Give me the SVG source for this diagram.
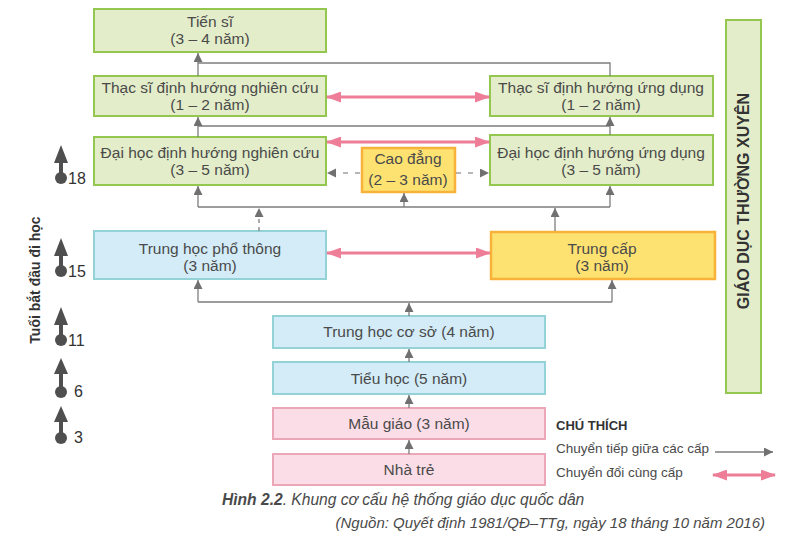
<svg xmlns="http://www.w3.org/2000/svg" width="788" height="537" viewBox="0 0 788 537">
<defs>
<marker id="ga" markerUnits="userSpaceOnUse" markerWidth="9" markerHeight="10" refX="9" refY="4.5" orient="auto"><path d="M0,0 L9,4.5 L0,9 z" fill="#707070"/></marker>
<marker id="pa" markerUnits="userSpaceOnUse" markerWidth="15" markerHeight="11" refX="14" refY="5.5" orient="auto-start-reverse"><path d="M0,0 L15,5.5 L0,11 z" fill="#ee7d97"/></marker>
</defs>
<style>
text{font-family:"Liberation Sans",Arial,sans-serif;fill:#4a4a4a}
.t{font-size:15.5px;text-anchor:middle}
.g{fill:#e3edc9;stroke:#93c74f;stroke-width:2}
.b{fill:#d3ecf8;stroke:#93d2d6;stroke-width:2}
.p{fill:#fbdde7;stroke:#eba6b7;stroke-width:2}
.y{fill:#fde272;stroke:#f8b23a;stroke-width:2.5}
.c{fill:none;stroke:#7d7d7d;stroke-width:1.3}
.d{stroke-dasharray:4 4}
.dl{stroke:#a0a0a0;stroke-dasharray:5 7}
.pk{fill:none;stroke:#ee7d97;stroke-width:3}
.age{fill:#4f4f4f}
.an{font-size:16px;fill:#333}
</style>

<g id="tien-si"><rect class="g" x="94" y="9" width="232" height="43"/><text class="t" x="210" y="27">Tiến sĩ</text><text class="t" x="210" y="44">(3 – 4 năm)</text></g>
<g id="thac-si-nc"><rect class="g" x="94" y="76" width="232" height="40"/><text class="t" x="210" y="93">Thạc sĩ định hướng nghiên cứu</text><text class="t" x="210" y="110">(1 – 2 năm)</text></g>
<g id="thac-si-ud"><rect class="g" x="490" y="76" width="223" height="40"/><text class="t" x="601" y="93">Thạc sĩ định hướng ứng dụng</text><text class="t" x="601" y="110">(1 – 2 năm)</text></g>
<g id="dai-hoc-nc"><rect class="g" x="94" y="137" width="232" height="48"/><text class="t" x="210" y="158">Đại học định hướng nghiên cứu</text><text class="t" x="210" y="175">(3 – 5 năm)</text></g>
<g id="dai-hoc-ud"><rect class="g" x="490" y="135" width="223" height="50"/><text class="t" x="601" y="158">Đại học định hướng ứng dụng</text><text class="t" x="601" y="175">(3 – 5 năm)</text></g>
<g id="cao-dang"><rect class="y" x="362" y="148" width="93" height="44"/><text class="t" x="408" y="164">Cao đẳng</text><text class="t" x="408" y="185">(2 – 3 năm)</text></g>
<g id="thpt"><rect class="b" x="94" y="231" width="232" height="48"/><text class="t" x="210" y="254">Trung học phổ thông</text><text class="t" x="210" y="271">(3 năm)</text></g>
<g id="trung-cap"><rect class="y" x="491" y="232" width="224" height="47"/><text class="t" x="602" y="254">Trung cấp</text><text class="t" x="602" y="271">(3 năm)</text></g>
<g id="thcs"><rect class="b" x="273" y="316" width="272" height="32"/><text class="t" x="409" y="337">Trung học cơ sở (4 năm)</text></g>
<g id="tieu-hoc"><rect class="b" x="273" y="362" width="272" height="32"/><text class="t" x="409" y="384">Tiểu học (5 năm)</text></g>
<g id="mau-giao"><rect class="p" x="273" y="408" width="272" height="31"/><text class="t" x="409" y="429">Mẫu giáo (3 năm)</text></g>
<g id="nha-tre"><rect class="p" x="273" y="454" width="272" height="31"/><text class="t" x="409" y="475">Nhà trẻ</text></g>
<g id="gdtx"><rect class="g" x="726" y="20" width="35" height="373"/><text transform="translate(749,201) rotate(-90)" font-size="16" font-weight="bold" text-anchor="middle" style="fill:#333">GIÁO DỤC THƯỜNG XUYÊN</text></g>

<g id="connectors">
<path class="c" d="M610,76 V63 H198"/>
<path class="c" d="M198,76 V53" marker-end="url(#ga)"/>
<path class="c" d="M198,126 H610"/>
<path class="c" d="M198,137 V117" marker-end="url(#ga)"/>
<path class="c" d="M610,135 V117" marker-end="url(#ga)"/>
<path class="c" d="M198,207 H610"/>
<path class="c" d="M198,207 V186" marker-end="url(#ga)"/>
<path class="c" d="M404,207 V193" marker-end="url(#ga)"/>
<path class="c" d="M610,207 V186" marker-end="url(#ga)"/>
<path class="c d" d="M259,231 V208" marker-end="url(#ga)"/>
<path class="c" d="M555,231 V208" marker-end="url(#ga)"/>
<path class="c dl" d="M360,173 H327" marker-end="url(#ga)"/>
<path class="c dl" d="M456,173 H489" marker-end="url(#ga)"/>
<path class="c" d="M198,302 H612"/>
<path class="c" d="M198,302 V280" marker-end="url(#ga)"/>
<path class="c" d="M612,302 V280" marker-end="url(#ga)"/>
<path class="c" d="M409,316 V303" marker-end="url(#ga)"/>
<path class="c" d="M409,362 V349" marker-end="url(#ga)"/>
<path class="c" d="M409,408 V395" marker-end="url(#ga)"/>
<path class="c" d="M409,454 V440" marker-end="url(#ga)"/>
<path class="pk" d="M327,97 H489" marker-start="url(#pa)" marker-end="url(#pa)"/>
<path class="pk" d="M327,142 H489" marker-start="url(#pa)" marker-end="url(#pa)"/>
<path class="pk" d="M327,253 H490" marker-start="url(#pa)" marker-end="url(#pa)"/>
</g>

<g id="age-axis">
<text transform="translate(40,280) rotate(-90)" font-size="14" font-weight="bold" text-anchor="middle" style="fill:#333">Tuổi bắt đầu đi học</text>
<g id="age-18"><path class="age" d="M61,145 L68,163 L63,163 L63,174 L59,174 L59,163 L54,163 z"/><circle class="age" cx="61" cy="178" r="6"/><text class="an" x="68" y="184">18</text></g>
<g id="age-15"><path class="age" d="M61,238 L68,256 L63,256 L63,267 L59,267 L59,256 L54,256 z"/><circle class="age" cx="61" cy="271" r="6"/><text class="an" x="68" y="277">15</text></g>
<g id="age-11"><path class="age" d="M61,307 L68,325 L63,325 L63,336 L59,336 L59,325 L54,325 z"/><circle class="age" cx="61" cy="340" r="6"/><text class="an" x="68" y="346">11</text></g>
<g id="age-6"><path class="age" d="M61,358 L68,374 L63,374 L63,388 L59,388 L59,374 L54,374 z"/><circle class="age" cx="61" cy="392" r="6"/><text class="an" x="74" y="397">6</text></g>
<g id="age-3"><path class="age" d="M61,406 L68,422 L63,422 L63,434 L59,434 L59,422 L54,422 z"/><circle class="age" cx="61" cy="438" r="6"/><text class="an" x="74" y="443">3</text></g>
</g>

<g id="legend">
<text x="556" y="430" font-size="13" font-weight="bold" style="fill:#333">CHÚ THÍCH</text>
<text x="556" y="453" font-size="13.5">Chuyển tiếp giữa các cấp</text>
<text x="556" y="477" font-size="13.5">Chuyển đổi cùng cấp</text>
<path class="c" d="M715,452 H773" marker-end="url(#ga)"/>
<path class="pk" d="M713,475 H775" marker-start="url(#pa)" marker-end="url(#pa)"/>
</g>

<g id="caption">
<text x="222" y="505" font-size="15.6" font-style="italic"><tspan font-weight="bold">Hình 2.2</tspan>. Khung cơ cấu hệ thống giáo dục quốc dân</text>
<text x="765" y="528" font-size="15" font-style="italic" text-anchor="end">(Nguồn: Quyết định 1981/QĐ–TTg, ngày 18 tháng 10 năm 2016)</text>
</g>
</svg>
